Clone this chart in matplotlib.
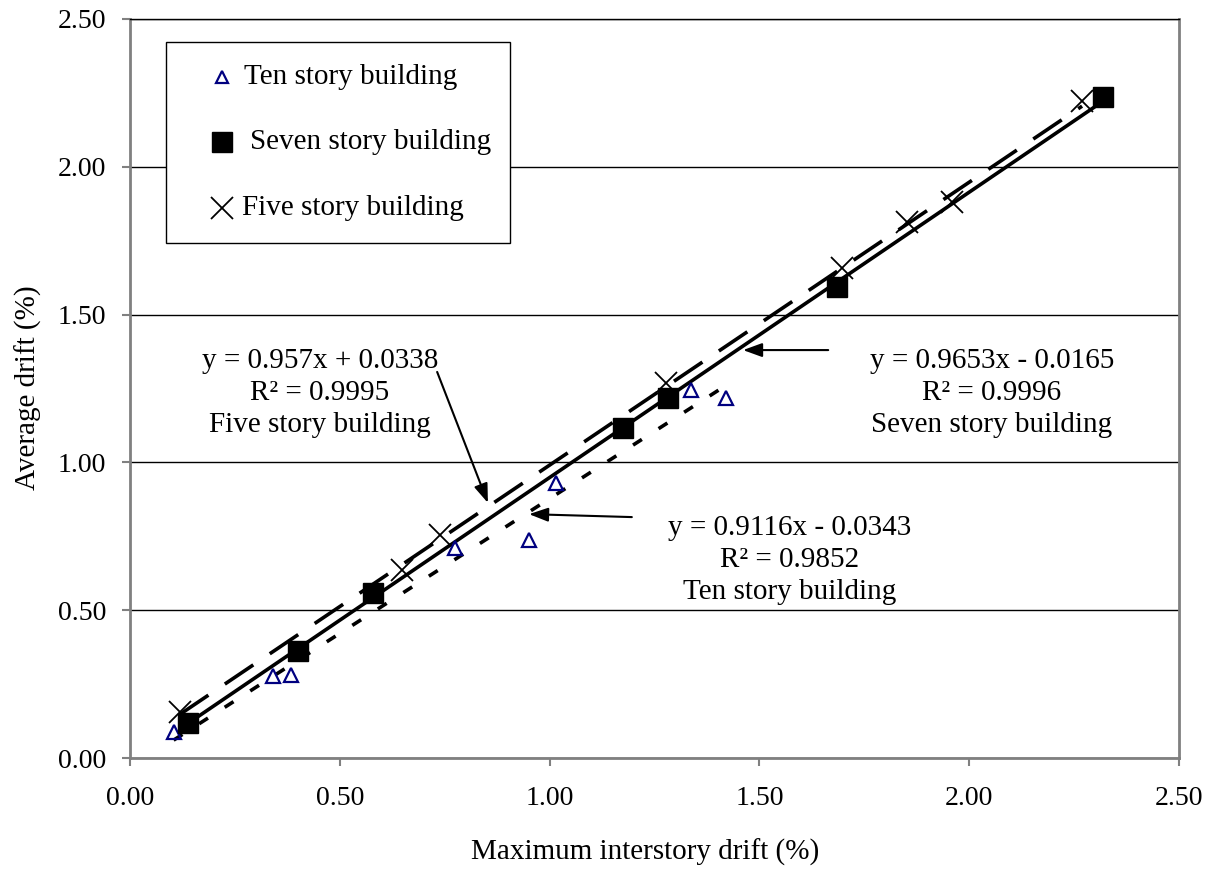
import numpy as np
import matplotlib
matplotlib.use("Agg")
import matplotlib.pyplot as plt
from matplotlib.patches import Rectangle
from matplotlib.ticker import FormatStrFormatter

plt.rcParams['font.family'] = ['Liberation Serif', 'DejaVu Serif']

# data (drift in %)
ten_x = [0.104, 0.34, 0.384, 0.775, 0.951, 1.015, 1.337, 1.42]
ten_y = [0.089, 0.277, 0.28, 0.71, 0.737, 0.93, 1.245, 1.218]
seven_x = [0.138, 0.40, 0.579, 1.175, 1.282, 1.685, 2.319]
seven_y = [0.118, 0.362, 0.558, 1.115, 1.218, 1.594, 2.236]
five_x = [0.119, 0.648, 0.739, 1.277, 1.697, 1.852, 1.959, 2.269]
five_y = [0.156, 0.636, 0.754, 1.268, 1.657, 1.813, 1.881, 2.222]

# trendline coefficients (slope, intercept) printed on the chart
ten_fit = (0.9116, -0.0343)
seven_fit = (0.9653, -0.0165)
five_fit = (0.957, 0.0338)

ten_label = "y = 0.9116x - 0.0343\nR\u00b2 = 0.9852\nTen story building"
seven_label = "y = 0.9653x - 0.0165\nR\u00b2 = 0.9996\nSeven story building"
five_label = "y = 0.957x + 0.0338\nR\u00b2 = 0.9995\nFive story building"

W, H = 1217, 871
fig = plt.figure(figsize=(W / 100, H / 100), dpi=100)
ax = fig.add_axes([130 / W, 113 / H, 1049 / W, 739 / H])


def trend(xs, fit):
    x = np.array([min(xs), max(xs)])
    return x, fit[0] * x + fit[1]


def to_axes(px, py):
    return ((px - 130) / 1049, (758 - py) / 739)


lw = 2.6
x, y = trend(ten_x, ten_fit)
ax.plot(x, y, color='black', lw=lw, dashes=(2.9, 5.5), zorder=3)
x, y = trend(seven_x, seven_fit)
ax.plot(x, y, color='black', lw=lw, zorder=3)
x, y = trend(five_x, five_fit)
ax.plot(x, y, color='black', lw=lw, dashes=(9.5, 5.5), zorder=3)

ax.plot(ten_x, ten_y, linestyle='none', marker='^', ms=10, mfc='none',
        mec='#000080', mew=1.6, zorder=4)
ax.plot(seven_x, seven_y, linestyle='none', marker='s', ms=14, color='black', zorder=4)
ax.plot(five_x, five_y, linestyle='none', marker='x', ms=16, mew=1.3,
        color='black', zorder=4)

ax.set_xlim(0, 2.5)
ax.set_ylim(0, 2.5)
ax.set_xticks(np.arange(0, 2.51, 0.5))
ax.set_yticks(np.arange(0, 2.51, 0.5))
ax.xaxis.set_major_formatter(FormatStrFormatter('%.2f'))
ax.yaxis.set_major_formatter(FormatStrFormatter('%.2f'))
ax.tick_params(direction='out', length=6, width=1.5, color='#808080', labelsize=20)
ax.tick_params(axis='x', pad=14)
ax.tick_params(axis='y', pad=11)
ax.yaxis.grid(True, color='black', lw=1)
ax.set_axisbelow(True)
for s in ax.spines.values():
    s.set_color('#808080')
    s.set_linewidth(2)
ax.spines['top'].set_color('black')
ax.spines['top'].set_linewidth(1)

ax.set_xlabel("Maximum interstory drift (%)", fontsize=21)
ax.xaxis.set_label_coords(*to_axes(645, 852))
ax.xaxis.label.set_va('center')
ax.set_ylabel("Average drift (%)", fontsize=21)
ax.yaxis.set_label_coords(*to_axes(28, 388))
ax.yaxis.label.set_va('center')

# equation labels
box = dict(facecolor='white', edgecolor='none', pad=3)
ax.text(0.453, 1.235, five_label, ha='center', va='center', fontsize=21,
        linespacing=1.3, bbox=box, zorder=5)
ax.text(2.054, 1.235, seven_label, ha='center', va='center', fontsize=21,
        linespacing=1.3, bbox=box, zorder=5)
ax.text(1.573, 0.670, ten_label, ha='center', va='center', fontsize=21,
        linespacing=1.3, bbox=box, zorder=5)

arrow = dict(arrowstyle='-|>,head_length=0.55,head_width=0.2', color='black',
             lw=1.5, mutation_scale=21, shrinkA=0, shrinkB=0)
ax.annotate('', xy=(0.853, 0.863), xytext=(0.732, 1.306), arrowprops=arrow, zorder=6)
ax.annotate('', xy=(1.461, 1.380), xytext=(1.664, 1.380), arrowprops=arrow, zorder=6)
ax.annotate('', xy=(0.951, 0.825), xytext=(1.196, 0.815), arrowprops=arrow, zorder=6)

# legend box
x0, y0 = to_axes(166, 243)
x1, y1 = to_axes(510, 42)
ax.add_patch(Rectangle((x0, y0), x1 - x0, y1 - y0, transform=ax.transAxes,
                       facecolor='white', edgecolor='black', lw=1, zorder=7))
entries = [
    ("Ten story building", 77, 244, dict(marker='^', ms=9, mfc='none', mec='#000080', mew=1.6)),
    ("Seven story building", 142, 250, dict(marker='s', ms=14, color='black')),
    ("Five story building", 208, 242, dict(marker='x', ms=16, mew=1.3, color='black')),
]
for label, py, tx, style in entries:
    mx, my = to_axes(222, py)
    ax.plot([mx], [my], linestyle='none', transform=ax.transAxes, clip_on=False,
            zorder=8, **style)
    lx, ly = to_axes(tx, py)
    ax.text(lx, ly, label, transform=ax.transAxes, ha='left', va='center',
            fontsize=21, zorder=8)

fig.savefig('out.png', dpi=100)
